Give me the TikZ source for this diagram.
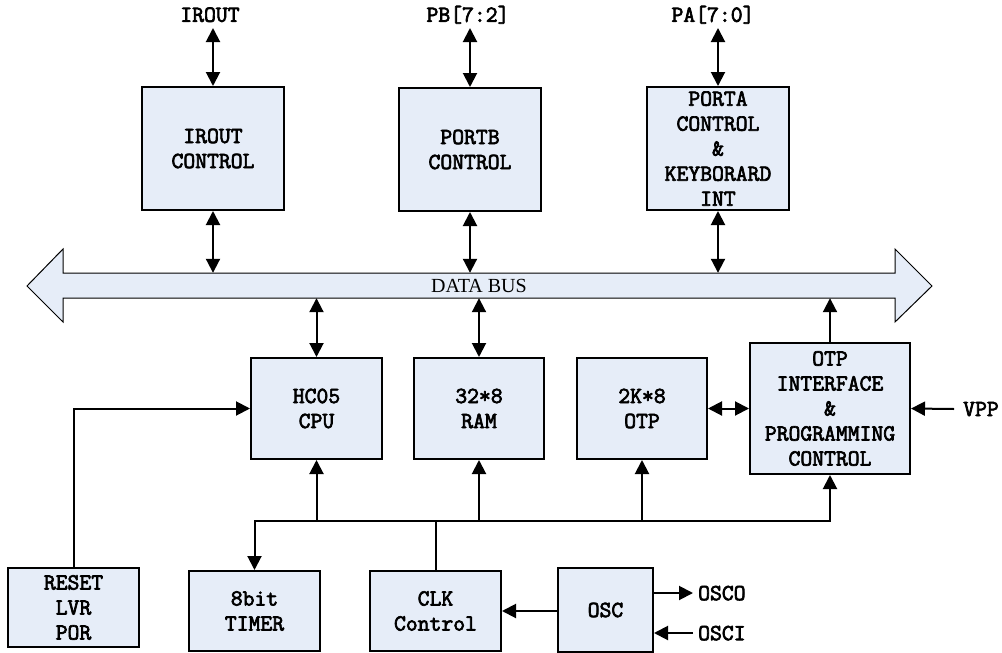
\documentclass[tikz,border=0pt]{standalone}
\usepackage{fontspec}
\setmainfont{Liberation Serif}
\setmonofont{Latin Modern Mono}[AutoFakeBold=3]
\usetikzlibrary{arrows.meta}
\definecolor{boxfill}{RGB}{230,237,248}
\newcommand{\blkfont}{\ttfamily\bfseries\fontsize{23}{25}\selectfont}
\tikzset{
  mytri/.tip={Triangle[length=14pt,width=14pt]},
  blk/.style={draw, line width=2pt, fill=boxfill, align=center, inner sep=0pt,
    font=\blkfont},
  lbl/.style={inner xsep=0pt, inner ysep=6pt, text depth=0pt, font=\blkfont},
  sidelbl/.style={inner xsep=5pt, inner ysep=0pt, text depth=0pt, font=\blkfont},
  conn/.style={line width=2pt},
  one/.style={conn, -mytri},
  two/.style={conn, mytri-mytri},
  busline/.style={draw, line width=1pt, fill=boxfill},
}
\begin{document}
\begin{tikzpicture}[x=1pt,y=-1pt]
\useasboundingbox (0,0) rectangle (1002,653);

% data bus shape
\path[busline] (27,286) -- (63,249) -- (63,273) -- (895,273) -- (895,249) -- (932,286)
  -- (895,322) -- (895,298) -- (63,298) -- (63,322) -- cycle;
\node[minimum width=832pt, minimum height=25pt, inner sep=0pt,
  font=\rmfamily\fontsize{20}{24}\selectfont] (bus) at (479,285.5) {DATA BUS};

% top blocks
\node[blk, minimum width=142pt, minimum height=123pt] (irctl) at (213,148.5) {IROUT\\CONTROL};
\node[blk, minimum width=142pt, minimum height=123pt] (pbctl) at (470,149.5) {PORTB\\CONTROL};
\node[blk, minimum width=142pt, minimum height=123pt] (pactl) at (718,148.5) {PORTA\\CONTROL\\\&\\KEYBORARD\\INT};

% top labels
\node[lbl, anchor=south] (iro) at (210,28) {IROUT};
\node[lbl, anchor=south] (pb) at (468,28) {PB[7:2]};
\node[lbl, anchor=south] (pa) at (713,28) {PA[7:0]};

% middle blocks
\node[blk, minimum width=131pt, minimum height=101pt] (cpu) at (316.5,408.5) {HC05\\CPU};
\node[blk, minimum width=130pt, minimum height=101pt] (ram) at (479,408.5) {32*8\\RAM};
\node[blk, minimum width=130pt, minimum height=101pt] (otp) at (642,408.5) {2K*8\\OTP};
\node[blk, minimum width=160pt, minimum height=131pt] (otpif) at (830,408.5) {OTP\\INTERFACE\\\&\\PROGRAMMING\\CONTROL};
\node[sidelbl, anchor=west, inner xsep=9pt] (vpp) at (954,409) {VPP};

% bottom blocks
\node[blk, minimum width=131pt, minimum height=79pt] (reset) at (73.5,607.5) {RESET\\LVR\\POR};
\node[blk, minimum width=131pt, minimum height=80pt] (timer) at (254.5,611) {8bit\\TIMER};
\node[blk, minimum width=131pt, minimum height=80pt] (clk) at (435.5,611) {CLK\\Control};
\node[blk, minimum width=95pt, minimum height=84pt] (osc) at (605.5,610) {OSC};
\node[sidelbl, anchor=west] (osco) at (693,593) {OSCO};
\node[sidelbl, anchor=west] (osci) at (693,633) {OSCI};

% top connectors
\draw[two] (irctl.north) -- (irctl.north |- iro.south);
\draw[two] (pbctl.north) -- (pbctl.north |- pb.south);
\draw[two] (pactl.north) -- (pactl.north |- pa.south);
\draw[two] (irctl.south) -- (irctl.south |- bus.north);
\draw[two] (pbctl.south) -- (pbctl.south |- bus.north);
\draw[two] (pactl.south) -- (pactl.south |- bus.north);

% bus to middle
\draw[two] (cpu.north) -- (cpu.north |- bus.south);
\draw[two] (ram.north) -- (ram.north |- bus.south);
\draw[one] (otpif.north) -- (otpif.north |- bus.south);
\draw[two] (otp.east) -- (otpif.west);
\draw[one] (vpp.west) -- (otpif.east);

% reset
\draw[one] (reset.north) |- (cpu.west);

% clock distribution
\coordinate (ck) at (435.5,521);
\draw[conn] (clk.north) -- (ck);
\draw[one] (ck) -| (timer.north);
\draw[one] (ck) -| (otpif.south);
\draw[one] (cpu.south |- ck) -- (cpu.south);
\draw[one] (ram.south |- ck) -- (ram.south);
\draw[one] (otp.south |- ck) -- (otp.south);

% oscillator
\draw[one] (osc.west |- clk.east) -- (clk.east);
\draw[one] (osc.east |- osco.west) -- (osco.west);
\draw[one] (osci.west) -- (osc.east |- osci.west);
\end{tikzpicture}
\end{document}
